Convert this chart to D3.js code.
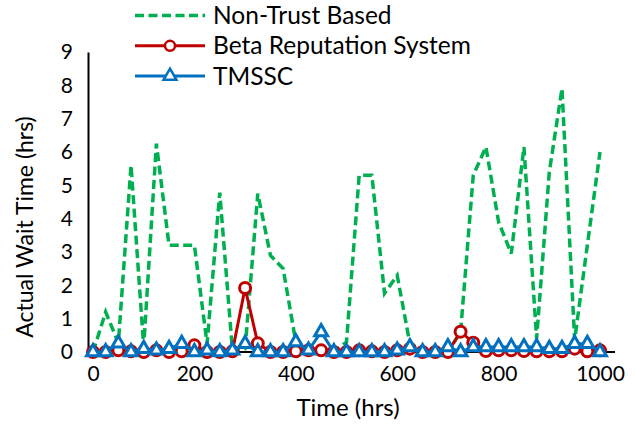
<!DOCTYPE html>
<html>
<head>
<meta charset="utf-8">
<script src="https://cdn.jsdelivr.net/npm/d3@7"></script>
<style>
  body { margin: 0; background: #fff; }
  svg text { font-family: Lato, "Open Sans", sans-serif; fill: #000; }
</style>
</head>
<body>
<div id="chart"></div>
<script>
// Time in hours, one sample every 25 hrs
const times = d3.range(0, 1001, 25);

const nonTrust = [0, 1.2, 0.27, 5.6, 0.15, 6.25, 3.2, 3.2, 3.2, 0.25,
  4.78, 0.05, 0.1, 4.75, 2.9, 2.5, 0.3, 0.05, 0, 0,
  0.3, 5.3, 5.3, 1.76, 2.3, 0.25, 0, 0, 0, 0.6,
  5.3, 6.15, 3.9, 2.95, 6.15, 0.4, 5.4, 7.9, 0.36, 3.2, 6.0];

const betaRep = [0, 0, 0.05, 0.02, 0, 0.05, 0, 0.02, 0.2, 0,
  0, 0.02, 1.92, 0.26, 0, 0, 0.02, 0.05, 0.05, 0,
  0, 0.05, 0.02, 0, 0.05, 0.1, 0, 0, 0, 0.61,
  0.28, 0.03, 0.05, 0.05, 0.03, 0.02, 0.02, 0.02, 0.1, 0.02, 0.05];

const tmssc = [0, 0, 0.26, 0, 0.1, 0.05, 0.1, 0.25, 0, 0.05,
  0, 0.05, 0.25, 0, 0, 0, 0.3, 0.05, 0.6, 0,
  0, 0, 0, 0, 0.05, 0.15, 0, 0, 0.15, 0,
  0.15, 0.15, 0.15, 0.15, 0.15, 0.15, 0.1, 0.1, 0.25, 0.25, 0];

const yTicks = d3.range(0, 10, 1);
const xTicks = [0, 200, 400, 600, 800, 1000];

const series = [
  { name: "Non-Trust Based", values: nonTrust, color: "#00B050", dash: "9,4.5", marker: null },
  { name: "Beta Reputation System", values: betaRep, color: "#C00000", dash: null, marker: "circle" },
  { name: "TMSSC", values: tmssc, color: "#0070C0", dash: null, marker: "triangle" }
];

const W = 635, H = 427;
const plot = { left: 88, right: 615, top: 52, bottom: 352 };

const svg = d3.select("#chart").append("svg")
  .attr("width", W)
  .attr("height", H);

const x = d3.scaleLinear().domain([0, 1000]).range([93, 600]);
const y = d3.scaleLinear().domain([0, 9]).range([plot.bottom, plot.top]);

// Axes
const yAxis = svg.append("g")
  .attr("transform", `translate(${plot.left},0)`)
  .call(d3.axisLeft(y).tickValues(yTicks).tickSize(0).tickPadding(15));
yAxis.select(".domain").attr("stroke", "#000").attr("stroke-width", 2);
yAxis.selectAll(".tick text").style("font-size", "21px").attr("font-family", null);

const xAxis = svg.append("g")
  .attr("transform", `translate(0,${plot.bottom})`)
  .call(d3.axisBottom(x).tickValues(xTicks).tickFormat(d3.format("d")).tickSize(0).tickPadding(14));
xAxis.select(".domain")
  .attr("d", `M${plot.left},0H${plot.right}`)
  .attr("stroke", "#000").attr("stroke-width", 2);
xAxis.selectAll(".tick text").style("font-size", "21px").attr("font-family", null);

// Axis titles
svg.append("text")
  .attr("transform", `translate(33,227) rotate(-90)`)
  .attr("text-anchor", "middle")
  .style("font-size", "23px")
  .text("Actual Wait Time (hrs)");

svg.append("text")
  .attr("x", 348)
  .attr("y", 416)
  .attr("text-anchor", "middle")
  .style("font-size", "24px")
  .text("Time (hrs)");

const line = d3.line()
  .x((d, i) => x(times[i]))
  .y(d => y(d));

const triangle = d3.symbol().type(d3.symbolTriangle).size(72);

series.forEach(s => {
  svg.append("path")
    .datum(s.values)
    .attr("fill", "none")
    .attr("stroke", s.color)
    .attr("stroke-width", s.dash ? 3.5 : 3)
    .attr("stroke-dasharray", s.dash)
    .attr("d", line);

  if (s.marker === "circle") {
    svg.append("g").selectAll("circle")
      .data(s.values)
      .join("circle")
      .attr("cx", (d, i) => x(times[i]))
      .attr("cy", d => y(d))
      .attr("r", 5.5)
      .attr("fill", "#fff")
      .attr("stroke", s.color)
      .attr("stroke-width", 3);
  } else if (s.marker === "triangle") {
    svg.append("g").selectAll("path")
      .data(s.values)
      .join("path")
      .attr("transform", (d, i) => `translate(${x(times[i])},${y(d)})`)
      .attr("d", triangle)
      .attr("fill", "#fff")
      .attr("stroke", s.color)
      .attr("stroke-width", 3);
  }
});

// Legend
const legend = svg.append("g").attr("transform", "translate(135,15.5)");
const item = legend.selectAll("g")
  .data(series)
  .join("g")
  .attr("transform", (d, i) => `translate(0,${i * 30.3})`);

item.append("line")
  .attr("x1", 0).attr("x2", 70)
  .attr("stroke", d => d.color)
  .attr("stroke-width", d => d.dash ? 3.5 : 3)
  .attr("stroke-dasharray", d => d.dash);

item.filter(d => d.marker === "circle").append("circle")
  .attr("cx", 35).attr("r", 5)
  .attr("fill", "#fff").attr("stroke", d => d.color).attr("stroke-width", 2.5);

item.filter(d => d.marker === "triangle").append("path")
  .attr("transform", "translate(35,0)")
  .attr("d", triangle)
  .attr("fill", "#fff").attr("stroke", d => d.color).attr("stroke-width", 2.5);

item.append("text")
  .attr("x", 78)
  .attr("dy", "0.35em")
  .style("font-size", "24.5px")
  .text(d => d.name);
</script>
</body>
</html>
